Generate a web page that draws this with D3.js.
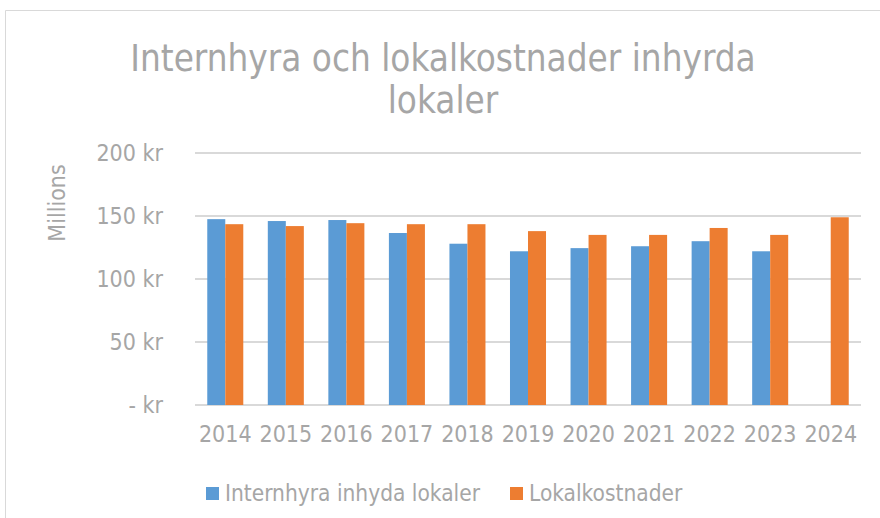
<!DOCTYPE html>
<html><head><meta charset="utf-8">
<script src="https://cdn.jsdelivr.net/npm/d3@7"></script>
<style>body{margin:0;background:#fff}svg{display:block}text{font-family:"DejaVu Sans Condensed","DejaVu Sans",sans-serif;fill:#a6a6a6}</style>
</head><body><svg id="c" width="880" height="518"></svg>
<script>
const years = ["2014","2015","2016","2017","2018","2019","2020","2021","2022","2023","2024"];
const internhyra = [147.5,146,146.8,136.5,128,122,124.5,126,130,122,null];
const lokalkostnader = [143.5,142,144.3,143.5,143.5,138,135,135,140.5,135,149];
const seriesNames = ["Internhyra inhyda lokaler","Lokalkostnader"];
const seriesColors = ["#5B9BD5","#ED7D31"];
const yTicks = [0,50,100,150,200];
const titleLines = ["Internhyra och lokalkostnader inhyrda","lokaler"];

(function(){
const svg = d3.select("#c");
svg.append("path").attr("d","M5.5,518V10.5H880").attr("fill","none").attr("stroke","#d9d9d9").attr("stroke-width",1);

const pl=195,pr=861,pt=153,pb=405;
const x = d3.scaleBand().domain(years).range([pl,pr]).paddingInner(0.405).paddingOuter(0.2025);
const xs = d3.scaleBand().domain([0,1]).range([0,x.bandwidth()]);
const y = d3.scaleLinear().domain([0,200]).range([pb,pt]);

svg.append("g").selectAll("line").data(yTicks).join("line")
  .attr("x1",pl).attr("x2",pr).attr("y1",d=>y(d)).attr("y2",d=>y(d))
  .attr("stroke","#d9d9d9").attr("stroke-width",2);

svg.append("g").selectAll("text").data(yTicks).join("text")
  .attr("x",163).attr("y",d=>y(d)).attr("dy","0.36em").attr("text-anchor","end")
  .style("font-size","23px").text(d=>d===0?"- kr":d+" kr");

const series=[internhyra,lokalkostnader];
series.forEach((vals,si)=>{
  svg.append("g").selectAll("rect").data(years.map((yr,i)=>({yr,v:vals[i]})).filter(d=>d.v!=null)).join("rect")
    .attr("x",d=>x(d.yr)+xs(si)).attr("width",xs.bandwidth())
    .attr("y",d=>y(d.v)).attr("height",d=>y(0)-y(d.v)).attr("fill",seriesColors[si]);
});

svg.append("g").selectAll("text").data(years).join("text")
  .attr("x",d=>x(d)+x.bandwidth()/2).attr("y",434).attr("dy","0.36em").attr("text-anchor","middle")
  .style("font-size","23px").text(d=>d);

svg.append("text").attr("transform","translate(57,203) rotate(-90)").attr("text-anchor","middle").attr("dy","0.36em")
  .style("font-size","23px").text("Millions");

svg.append("g").selectAll("text").data(titleLines).join("text")
  .attr("x",443).attr("y",(d,i)=>58+i*42).attr("dy","0.36em").attr("text-anchor","middle")
  .style("font-size","36.5px").text(d=>d);

const legX=[206,510];
seriesNames.forEach((n,i)=>{
  svg.append("rect").attr("x",legX[i]).attr("y",487).attr("width",13).attr("height",13).attr("fill",seriesColors[i]);
  svg.append("text").attr("x",legX[i]+19).attr("y",493).attr("dy","0.36em").style("font-size","22.5px").text(n);
});
})();
</script></body></html>
